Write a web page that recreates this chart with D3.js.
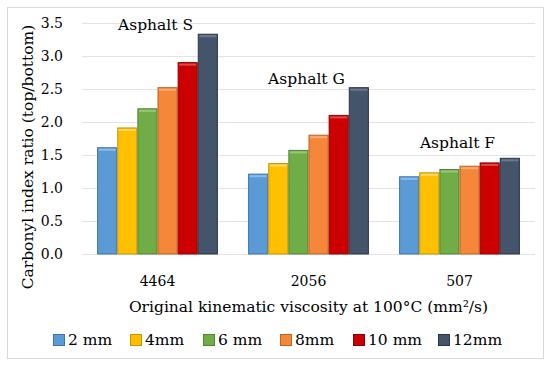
<!DOCTYPE html>
<html>
<head>
<meta charset="utf-8">
<script src="https://cdn.jsdelivr.net/npm/d3@7"></script>
<style>
html,body{margin:0;padding:0;background:#fff;}
svg{display:block;}
text{font-family:"DejaVu Serif",serif;fill:#000;}
</style>
</head>
<body>
<svg id="chart" width="550" height="365"></svg>
<script>
const categories = ["4464", "2056", "507"];
const seriesNames = ["2 mm", "4mm", "6 mm", "8mm", "10 mm", "12mm"];
const s2mm  = [1.61, 1.21, 1.17];
const s4mm  = [1.91, 1.37, 1.23];
const s6mm  = [2.20, 1.57, 1.28];
const s8mm  = [2.52, 1.80, 1.33];
const s10mm = [2.90, 2.10, 1.38];
const s12mm = [3.33, 2.52, 1.45];
const groupLabels = ["Asphalt S", "Asphalt G", "Asphalt F"];
const groupLabelLevels = [3.39, 2.58, 1.61];
const yTicks = [0, 0.5, 1.0, 1.5, 2.0, 2.5, 3.0, 3.5];

const seriesValues = [s2mm, s4mm, s6mm, s8mm, s10mm, s12mm];
const fills = ["#5B9BD5", "#FFC000", "#70AD47", "#F4873A", "#CC0000", "#44546A"];
const strokes = ["#3E75A8", "#C79500", "#4F8430", "#C0631E", "#8E0000", "#2B3646"];
const tops = ["#8DBCE6", "#FFD966", "#98C77A", "#F8AB75", "#E04848", "#6B7A90"];

const svg = d3.select("#chart");
const W = 550, H = 365;
const m = {left: 82, right: 15, top: 23, bottom: 111};
const iw = W - m.left - m.right, ih = H - m.top - m.bottom;
const FS = "15.5px", NFS = "14px";

// outer border
svg.append("rect").attr("x", 7.5).attr("y", 7.5).attr("width", 536).attr("height", 351)
  .attr("fill", "#fff").attr("stroke", "#D9D9D9").attr("stroke-width", 1);

const g = svg.append("g").attr("transform", `translate(${m.left},${m.top})`);

const x0 = d3.scaleBand().domain(categories).range([0, iw]).paddingInner(0.2).paddingOuter(0.1);
const x1 = d3.scaleBand().domain(seriesNames).range([0, x0.bandwidth()]).padding(0);
const y = d3.scaleLinear().domain([0, 3.5]).range([ih, 0]);

// gridlines
g.append("g").selectAll("line").data(yTicks).join("line")
  .attr("x1", 0).attr("x2", iw)
  .attr("y1", d => Math.round(y(d)) + 0.5).attr("y2", d => Math.round(y(d)) + 0.5)
  .attr("stroke", "#E3E3E3").attr("stroke-width", 1);

// y axis labels
const yAxis = d3.axisLeft(y).tickValues(yTicks).tickFormat(d3.format(".1f")).tickSize(0).tickPadding(19);
const ya = g.append("g").call(yAxis);
ya.select(".domain").remove();
ya.selectAll("text").style("font-family", '"DejaVu Serif",serif').style("font-size", NFS).attr("fill", "#000");

// x axis labels
const xAxis = d3.axisBottom(x0).tickSize(0).tickPadding(22);
const xa = g.append("g").attr("transform", `translate(0,${ih})`).call(xAxis);
xa.select(".domain").remove();
xa.selectAll("text").style("font-family", '"DejaVu Serif",serif').style("font-size", NFS).attr("fill", "#000");

// bars
seriesNames.forEach((s, si) => {
  const gs = g.append("g");
  const vals = seriesValues[si];
  gs.selectAll("rect.bar").data(categories.map((c, ci) => ({c, v: vals[ci]}))).join("rect")
    .attr("class", "bar")
    .attr("x", d => x0(d.c) + x1(s) + 0.5)
    .attr("y", d => y(d.v))
    .attr("width", x1.bandwidth() - 1)
    .attr("height", d => ih - y(d.v))
    .attr("fill", fills[si]).attr("stroke", strokes[si]).attr("stroke-width", 1);
  gs.selectAll("rect.top").data(categories.map((c, ci) => ({c, v: vals[ci]}))).join("rect")
    .attr("class", "top")
    .attr("x", d => x0(d.c) + x1(s) + 1.5)
    .attr("y", d => y(d.v) + 1)
    .attr("width", x1.bandwidth() - 3)
    .attr("height", 2)
    .attr("fill", tops[si]);
});

// group labels
g.append("g").selectAll("text").data(categories).join("text")
  .attr("x", d => x0(d) + x0.bandwidth() / 2 - 2)
  .attr("y", (d, i) => y(groupLabelLevels[i]))
  .attr("text-anchor", "middle")
  .style("font-size", FS)
  .text((d, i) => groupLabels[i]);

// axis titles
svg.append("text").attr("x", m.left + iw / 2).attr("y", 312).attr("text-anchor", "middle")
  .style("font-size", FS).text("Original kinematic viscosity at 100°C (mm²/s)");
svg.append("text").attr("transform", `translate(33,157) rotate(-90)`).attr("text-anchor", "middle")
  .style("font-size", FS).text("Carbonyl index ratio (top/bottom)");

// legend
const legX = [53, 130, 203, 280, 353, 438];
const lg = svg.append("g");
seriesNames.forEach((s, i) => {
  lg.append("rect").attr("x", legX[i] + 0.5).attr("y", 334.5).attr("width", 11).attr("height", 11)
    .attr("fill", fills[i]).attr("stroke", strokes[i]);
  lg.append("text").attr("x", legX[i] + 15).attr("y", 345).style("font-size", FS).text(s);
});
</script>
</body>
</html>
